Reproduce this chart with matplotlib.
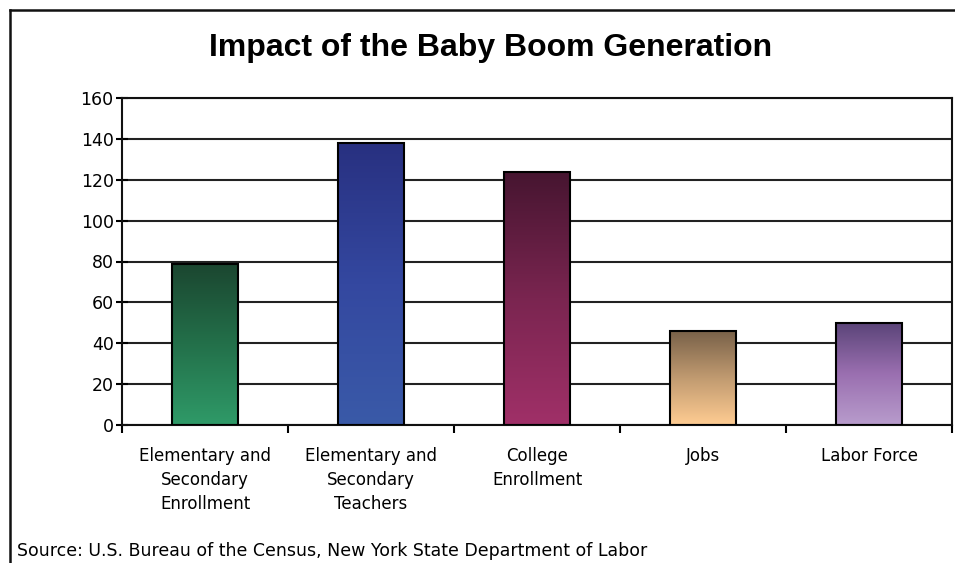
import numpy as np
import matplotlib
matplotlib.use("Agg")
import matplotlib.pyplot as plt
from matplotlib.colors import LinearSegmentedColormap
from matplotlib.lines import Line2D

categories = [
    "Elementary and\nSecondary\nEnrollment",
    "Elementary and\nSecondary\nTeachers",
    "College\nEnrollment",
    "Jobs",
    "Labor Force",
]
values = [79, 138, 124, 46, 50]
y_ticks = [0, 20, 40, 60, 80, 100, 120, 140, 160]

# top colour, middle colour, bottom colour for each bar
bar_colors = [
    ("#1b4630", "#23704a", "#2f9a68"),
    ("#283080", "#3448a0", "#3a5aa8"),
    ("#461530", "#7a2550", "#a03068"),
    ("#776048", "#c09a70", "#ffcc92"),
    ("#5a4478", "#9a6fb0", "#b89ccc"),
]

fig = plt.figure(figsize=(9.55, 5.63), dpi=100)
ax = fig.add_axes([122 / 955, 1 - 425 / 563, 830 / 955, 327 / 563])

x = np.arange(len(categories))
bars = ax.bar(x, values, width=0.4, color="none", edgecolor="black", linewidth=1.5, zorder=3)

for bar, cols in zip(bars, bar_colors):
    cmap = LinearSegmentedColormap.from_list("grad", [cols[2], cols[1], cols[0]])
    bx, by = bar.get_x(), bar.get_y()
    bw, bh = bar.get_width(), bar.get_height()
    grad = np.linspace(0, 1, 256).reshape(-1, 1)
    im = ax.imshow(grad, cmap=cmap, origin="lower", aspect="auto",
                   extent=[bx, bx + bw, by, by + bh], zorder=2)
    im.set_clip_path(bar)

ax.set_xlim(-0.5, len(categories) - 0.5)
ax.set_ylim(0, 160)
ax.set_yticks(y_ticks)
ax.set_yticklabels([str(v) for v in y_ticks], fontsize=12.5, family="DejaVu Sans")
ax.yaxis.grid(True, color="#222222", linewidth=1.5, zorder=1)
ax.tick_params(axis="y", direction="inout", length=8, width=1.5, pad=2)

ax.set_xticks(x)
ax.set_xticklabels(categories, fontsize=12, family="DejaVu Sans", linespacing=1.42)
ax.tick_params(axis="x", length=0, pad=16)
ax.set_xticks(np.arange(-0.5, len(categories)), minor=True)
ax.tick_params(axis="x", which="minor", direction="out", length=6, width=1.5)

for side in ["left", "right", "top", "bottom"]:
    ax.spines[side].set_linewidth(1.5)
    ax.spines[side].set_color("#111111")

fig.text(491 / 955, 1 - 48 / 563, "Impact of the Baby Boom Generation",
         ha="center", va="center", fontsize=23, fontweight="bold", family="Liberation Sans")
fig.text(17 / 955, 1 - 551 / 563,
         "Source: U.S. Bureau of the Census, New York State Department of Labor",
         ha="left", va="center", fontsize=12.5, family="DejaVu Sans")

# outer frame (left and top edges)
fig.add_artist(Line2D([10 / 955, 10 / 955], [0, 1 - 10 / 563], transform=fig.transFigure,
                      color="#111111", linewidth=1.8))
fig.add_artist(Line2D([10 / 955, 1], [1 - 10 / 563, 1 - 10 / 563], transform=fig.transFigure,
                      color="#111111", linewidth=1.8))

fig.savefig("out.png", dpi=100)
